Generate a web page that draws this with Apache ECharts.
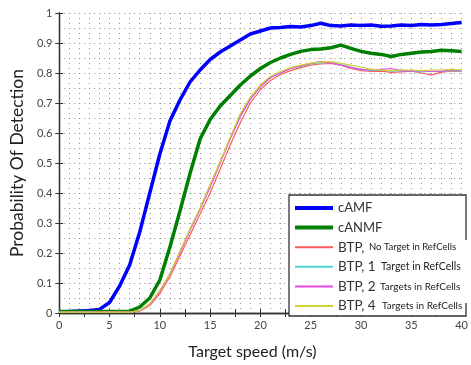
<!DOCTYPE html>
<html><head><meta charset="utf-8">
<script src="https://cdn.jsdelivr.net/npm/echarts@6/dist/echarts.min.js"></script>
<style>html,body{margin:0;padding:0;background:#fff}#c{width:471px;height:365px}</style>
</head><body><div id="c"></div>
<script>
var speeds = [0,1,2,3,4,5,6,7,8,9,10,11,12,13,14,15,16,17,18,19,20,21,22,23,24,25,26,27,28,29,30,31,32,33,34,35,36,37,38,39,40];
var cAMF = [null,0.005,0.007,0.008,0.012,0.035,0.09,0.16,0.27,0.40,0.53,0.64,0.71,0.77,0.81,0.845,0.87,0.89,0.91,0.93,0.94,0.95,0.952,0.955,0.953,0.958,0.966,0.958,0.957,0.96,0.958,0.96,0.956,0.957,0.96,0.958,0.962,0.96,0.962,0.965,0.968];
var cANMF = [0.005,0.005,0.005,0.005,0.005,0.005,0.005,0.006,0.02,0.05,0.11,0.22,0.34,0.465,0.58,0.645,0.69,0.725,0.76,0.79,0.815,0.835,0.85,0.862,0.872,0.878,0.88,0.884,0.893,0.882,0.872,0.866,0.862,0.855,0.862,0.866,0.87,0.872,0.876,0.874,0.872];
var btp0 = [0.003,0.003,0.003,0.003,0.003,0.003,0.003,0.003,0.006,0.025,0.065,0.12,0.19,0.26,0.33,0.40,0.48,0.56,0.635,0.70,0.745,0.775,0.795,0.808,0.818,0.826,0.83,0.832,0.826,0.815,0.808,0.805,0.806,0.802,0.804,0.806,0.80,0.794,0.803,0.806,0.805];
var btp1 = [0.003,0.003,0.003,0.003,0.003,0.003,0.003,0.003,0.008,0.03,0.075,0.13,0.205,0.28,0.35,0.425,0.505,0.585,0.66,0.715,0.755,0.785,0.80,0.815,0.822,0.83,0.834,0.835,0.828,0.82,0.812,0.808,0.81,0.806,0.808,0.807,0.804,0.806,0.805,0.808,0.806];
var btp2 = [0.003,0.003,0.003,0.003,0.003,0.003,0.003,0.003,0.008,0.03,0.073,0.13,0.2,0.275,0.345,0.42,0.50,0.58,0.655,0.712,0.755,0.785,0.80,0.815,0.824,0.832,0.838,0.834,0.826,0.818,0.812,0.81,0.812,0.815,0.808,0.806,0.808,0.805,0.806,0.81,0.808];
var btp4 = [0.003,0.003,0.003,0.003,0.003,0.003,0.003,0.003,0.008,0.03,0.075,0.132,0.205,0.28,0.35,0.428,0.505,0.585,0.665,0.72,0.76,0.79,0.805,0.818,0.826,0.833,0.836,0.838,0.832,0.826,0.82,0.812,0.81,0.808,0.81,0.81,0.808,0.81,0.81,0.812,0.81];
var seriesNames = ['cAMF','cANMF','BTP, No Target in RefCells','BTP, 1 Target in RefCells','BTP, 2 Targets in RefCells','BTP, 4 Targets in RefCells'];
var bigLabels = ['cAMF','cANMF','BTP,','BTP, 1','BTP, 2','BTP, 4'];
var smallLabels = ['','','No Target in RefCells','Target in RefCells','Targets in RefCells','Targets in RefCells'];
var xTickLabels = ['0','5','10','15','20','25','30','35','40'];
var yTickLabels = ['0','0.1','0.2','0.3','0.4','0.5','0.6','0.7','0.8','0.9','1'];

var seriesValues = [cAMF,cANMF,btp0,btp1,btp2,btp4];
var colors = ['#0000ff','#008000','#ff5a5a','#4fd3d3','#e64ae6','#d2d22e'];
var widths = [3.5,3.5,1.2,1.2,1.2,1.2];
var bigW = [0,0,28,41,40,42];
var smallCls = ['s','s','s0','s1','s2','s2'];
var thickIcon = 'path://M0,0H38V4H0Z';
var thinIcon = 'path://M0,0H38V2H0Z';

var chart = echarts.init(document.getElementById('c'), null, {renderer:'canvas'});
var font = 'Lato';
var dotted = {color:'#909090', width:1, type:[1,4]};
var series = seriesValues.map(function(vals,i){
  return {name:seriesNames[i], type:'line', xAxisIndex:0, yAxisIndex:0, showSymbol:false, symbol:'none', animation:false,
    data: speeds.map(function(s,j){return [s, vals[j]];}),
    lineStyle:{color:colors[i], width:widths[i]}, itemStyle:{color:colors[i]}, z:3};
});
chart.setOption({
  animation:false,
  grid:{left:58, right:6, top:13, bottom:49},
  xAxis:[
    {type:'value', min:0, max:40, interval:2.5, position:'bottom',
     axisLine:{lineStyle:{color:'#333', width:1.3}},
     axisTick:{inside:true, length:4, lineStyle:{color:'#333'}},
     axisLabel:{margin:7, color:'#444', fontSize:11, fontFamily:font,
       formatter:function(v){ var k = xTickLabels.indexOf(String(v)); return (v%5===0 && k>=0) ? xTickLabels[k] : ''; }},
     splitLine:{show:false},
     name:'Target speed (m/s)', nameLocation:'middle', nameGap:31,
     nameTextStyle:{fontFamily:font, fontSize:16, color:'#222', padding:[0,16,0,0]}},
    {type:'value', min:0, max:40, interval:2.5, position:'top',
     axisLine:{lineStyle:{color:'#333', width:1.3}},
     axisTick:{inside:true, length:4, lineStyle:{color:'#333'}},
     axisLabel:{show:false}, splitLine:{show:false}},
    {type:'value', min:0, max:40, interval:1, position:'bottom', offset:0,
     axisLine:{show:false}, axisTick:{show:false}, axisLabel:{show:false},
     splitLine:{show:true, lineStyle:dotted}}
  ],
  yAxis:[
    {type:'value', min:0, max:1, interval:0.1, position:'left',
     axisLine:{show:true, lineStyle:{color:'#333', width:1.3}},
     axisTick:{show:true, inside:true, length:4, lineStyle:{color:'#333'}},
     axisLabel:{margin:7, color:'#444', fontSize:11, fontFamily:font,
       formatter:function(v){ return yTickLabels[Math.round(v*10)]; }},
     splitLine:{show:true, lineStyle:dotted},
     minorTick:{show:false, splitNumber:2},
     minorSplitLine:{show:true, lineStyle:dotted},
     name:'Probability Of Detection', nameLocation:'middle', nameGap:25,
     nameTextStyle:{fontFamily:font, fontSize:17.5, color:'#222'}},
    {type:'value', min:0, max:1, interval:0.1, position:'right',
     axisLine:{show:true, lineStyle:{color:'#333', width:1.3}},
     axisTick:{show:true, inside:true, length:4, lineStyle:{color:'#333'}},
     axisLabel:{show:false}, splitLine:{show:false}}
  ],
  graphic:[
    {type:'rect', z:50, shape:{x:289, y:195, width:177, height:121}, style:{fill:'#fff', stroke:'#333', lineWidth:1.3}},
    {type:'rect', z:51, shape:{x:362, y:240, width:109, height:63}, style:{fill:'#fff', stroke:null}}
  ],
  legend:{
    z:60, orient:'vertical', left:290, top:195, itemWidth:38, itemHeight:10, itemGap:3.6,
    data: seriesNames.map(function(n,i){ return {name:n, icon: widths[i]>2 ? thickIcon : thinIcon}; }),
    selectedMode:false,
    textStyle:{fontFamily:font, color:'#333', fontSize:13, lineHeight:16,
      rich:{
        b:{fontFamily:font, fontSize:13, color:'#333', lineHeight:16},
        s0:{fontFamily:font, fontSize:9.5, color:'#222', lineHeight:16},
        s1:{fontFamily:font, fontSize:10.5, color:'#222', lineHeight:16},
        s2:{fontFamily:font, fontSize:10, color:'#222', lineHeight:16},
        w28:{fontFamily:font, fontSize:13.5, color:'#333', width:31, lineHeight:16},
        w41:{fontFamily:font, fontSize:13.5, color:'#333', width:43, lineHeight:16},
        w40:{fontFamily:font, fontSize:13.5, color:'#333', width:42, lineHeight:16},
        w42:{fontFamily:font, fontSize:13.5, color:'#333', width:44, lineHeight:16}
      }},
    formatter:function(name){
      var i = seriesNames.indexOf(name);
      if (!smallLabels[i]) return '{b|' + bigLabels[i] + '}';
      return '{w' + bigW[i] + '|' + bigLabels[i] + '}{' + smallCls[i] + '|' + smallLabels[i] + '}';
    }
  },
  series: series
});
</script></body></html>
